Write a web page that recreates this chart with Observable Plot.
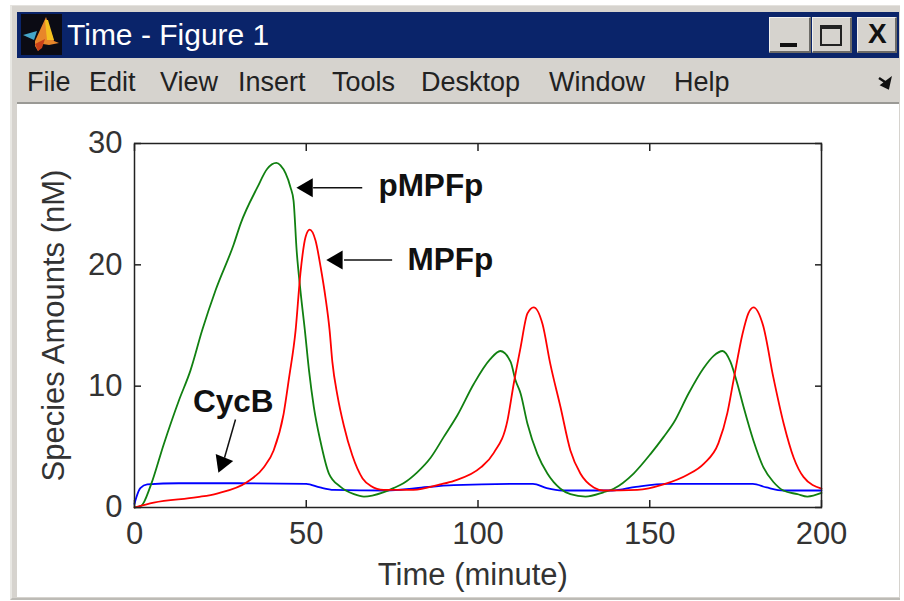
<!DOCTYPE html>
<html><head><meta charset="utf-8">
<script src="https://cdn.jsdelivr.net/npm/d3@7"></script>
<script src="https://cdn.jsdelivr.net/npm/@observablehq/plot@0.6"></script>
<style>
html,body{margin:0;padding:0;background:#fff;width:904px;height:601px;overflow:hidden;font-family:"Liberation Sans",Arial,sans-serif}
.abs{position:absolute;box-sizing:border-box}
#win{left:10px;top:5px;width:890px;height:595px;background:#d6d3ce;border-top:1px solid #e4e2de;border-left:2px solid #e8e7e3;border-bottom:2px solid #bdbbb6}
#titlebar{left:17px;top:12px;width:882px;height:46px;background:#0a246a}
#title{left:67px;top:18px;color:#fff;font-size:30px;line-height:34px;white-space:nowrap}
.btn{top:17px;height:36px;background:#d6d3ce;border-top:1px solid #f2f1ee;border-left:1px solid #f2f1ee;border-right:2px solid #6d6b67;border-bottom:2px solid #6d6b67}
.menu{top:65px;font-size:27px;line-height:34px;color:#222;white-space:nowrap}
#rule{left:17px;top:102px;width:882px;height:2px;background:#9a9995}
#paper{left:17px;top:104px;width:882px;height:493px;background:#fff}
#plot{left:0;top:108px}
#plot svg{background:transparent;display:block}
</style></head><body>
<div class="abs" id="win"></div>
<div class="abs" id="titlebar"></div>
<svg class="abs" style="left:21px;top:14px" width="41" height="41" viewBox="0 0 41 41">
<rect width="41" height="41" fill="#0b0b14"/>
<polygon points="2,21 16,17 13,26" fill="#45a5c8"/>
<polygon points="14,27 25,3 33,27 38,29 28,31 22,30 17,37 14,32" fill="#e8862a"/>
<polygon points="24,6 27,6 33,26 26,26" fill="#f4c020"/>
<polygon points="14,30 24,25 21,34 17,37" fill="#c8401a"/>
</svg>
<div class="abs" id="title">Time - Figure 1</div>
<div class="abs btn" style="left:769px;width:42px"></div>
<div class="abs btn" style="left:812px;width:40px"></div>
<div class="abs btn" style="left:857px;width:40px"></div>
<div class="abs" style="left:780px;top:43px;width:17px;height:4px;background:#111"></div>
<div class="abs" style="left:820px;top:25px;width:22px;height:21px;border:2px solid #222;border-top-width:4px"></div>
<div class="abs" style="left:868px;top:16px;font:bold 28px/36px 'Liberation Sans';color:#111">X</div>
<div class="abs menu" style="left:27px">File</div>
<div class="abs menu" style="left:89px">Edit</div>
<div class="abs menu" style="left:160px">View</div>
<div class="abs menu" style="left:238px">Insert</div>
<div class="abs menu" style="left:332px">Tools</div>
<div class="abs menu" style="left:421px">Desktop</div>
<div class="abs menu" style="left:549px">Window</div>
<div class="abs menu" style="left:674px">Help</div>
<svg class="abs" style="left:878px;top:76px" width="14" height="14" viewBox="0 0 14 14"><path d="M1 2 L7 6 M10 12 L12 3 L4 9 Z" stroke="#111" stroke-width="2.5" fill="#111"/></svg>
<div class="abs" id="rule"></div>
<div class="abs" id="paper"></div>
<div class="abs" id="plot"></div>
<script>
const xLabel = "Time (minute)";
const yLabel = "Species Amounts (nM)";
const xTicks = [0, 50, 100, 150, 200];
const yTicks = [0, 10, 20, 30];

const greenT = [0,2,4.7,8.5,12.9,16.3,19.7,23.6,28.9,30.9,35.8,38.6,41.3,42.5,45.4,46.3,47.2,48.3,49.6,50.8,52.2,54.1,56.6,60,63.9,66.8,72.4,75.4,78.3,82.3,86.2,90,94,98.8,103.5,106.5,109.5,110.9,112.4,114.4,117.3,120.2,124,126.9,131.3,136.5,139.5,145.3,150.2,154,157,161.3,165.7,168.6,171.2,173.5,175.5,177.3,180.2,183.1,186,188.9,193,195.9,200];
const greenV = [0,0.15,1.8,5.2,8.8,11.3,14.6,17.9,21.7,23.4,26.4,27.9,28.4,28.2,26.4,25.3,21.2,17.9,14.6,11.3,8.3,5.5,2.8,1.7,1.1,0.9,1.25,1.6,2,2.9,4.1,5.8,7.6,10.2,12.2,12.9,12,10.5,9.4,6.9,4.4,2.8,1.55,1.1,0.9,1.25,1.55,2.8,4.4,5.8,7,9.4,11.5,12.5,12.9,12,10.2,8.3,5.5,3.3,2.1,1.4,1.1,0.9,1.2];

const redT = [0,5.6,18.3,24,32.8,37.6,40.5,43.4,45,46.9,48.3,49.8,51,52.7,54.2,55.6,56.8,57.6,59.1,60.9,63.4,66.4,68.7,72.5,81.2,89,93,100.8,104.6,108.6,110.4,112.4,114.4,116.2,118.8,121,124,126.9,129.8,133.7,136.6,146.4,154,161,165.7,170,172.6,174.4,177,178.7,180.2,183,186,189,191.9,194.8,200];
const redV = [0,0.4,0.85,1.15,2.1,3.3,4.7,7.7,10.7,14.6,19.3,22.3,22.9,22,19.8,17.3,14.6,12,9.2,6.8,4.3,2.4,1.8,1.45,1.45,1.9,2.2,3.3,4.5,7.2,10.2,13.2,16,16.5,15.1,11.9,8.3,4.7,2.8,1.65,1.4,1.45,1.9,2.7,3.6,5.3,7.8,10.5,14.3,16,16.5,15,10.7,6.9,4.1,2.5,1.55];

const blueT = [0,0.5,1.7,3.7,12.9,30,50,54,58,73.6,82,93,116,120,124.5,139,146,155,180,184,189,200];
const blueV = [0.3,0.8,1.6,1.9,2,2,1.95,1.65,1.45,1.4,1.6,1.85,1.95,1.6,1.4,1.4,1.7,1.95,1.95,1.65,1.4,1.4];

const labelNames = ["pMPFp","MPFp","CycB"];
const labelX = [71,79.5,17];
const labelY = [26.5,20.4,8.7];

const toRows = (ts, vs) => ts.map((t,i)=>({t, v:vs[i]}));

const arrowShafts = [
  {x1:66.3,y1:26.35,x2:52,y2:26.35},
  {x1:75,y1:20.4,x2:61,y2:20.4},
  {x1:29.4,y1:7.25,x2:26.2,y2:4.1}
];
const arrowHeads = [
  {x:50.3,y:26.35,a:-90},
  {x:59,y:20.4,a:-90},
  {x:25.6,y:3.7,a:201.8}
];

const chart = Plot.plot({
  width: 904, height: 490,
  marginLeft: 134, marginRight: 83, marginTop: 35, marginBottom: 91,
  style: {background:"transparent", overflow:"visible"},
  x: {domain:[0,200], ticks:xTicks},
  y: {domain:[0,30], ticks:yTicks},
  marks: [
    Plot.axisX(xTicks,{anchor:"bottom", tickSize:-7, tickPadding:21, label:null, fontSize:31, fontFamily:"Liberation Sans", fill:"#333", stroke:"#222", strokeWidth:1.5}),
    Plot.axisX(xTicks,{anchor:"top", tickSize:-7, label:null, tickFormat:()=>"", stroke:"#222", strokeWidth:1.5}),
    Plot.axisY(yTicks,{anchor:"left", tickSize:-7, tickPadding:19, label:null, fontSize:31, fontFamily:"Liberation Sans", fill:"#333", stroke:"#222", strokeWidth:1.5}),
    Plot.axisY(yTicks,{anchor:"right", tickSize:-7, label:null, tickFormat:()=>"", stroke:"#222", strokeWidth:1.5}),
    Plot.line(toRows(blueT,blueV),{x:"t",y:"v",curve:"monotone-x",stroke:"#0000ff",strokeWidth:1.8}),
    Plot.line(toRows(greenT,greenV),{x:"t",y:"v",curve:"monotone-x",stroke:"#118011",strokeWidth:1.8}),
    Plot.line(toRows(redT,redV),{x:"t",y:"v",curve:"monotone-x",stroke:"#ff0000",strokeWidth:1.8}),
    Plot.frame({stroke:"#222",strokeWidth:1.5}),
    Plot.link(arrowShafts,{x1:"x1",y1:"y1",x2:"x2",y2:"y2",stroke:"#111",strokeWidth:1.5}),
    Plot.dot(arrowHeads,{x:"x",y:"y",rotate:"a",symbol:"triangle",r:7,fill:"#000",stroke:"none"}),
    Plot.text(labelNames,{x:(d,i)=>labelX[i],y:(d,i)=>labelY[i],text:d=>d,textAnchor:"start",fontSize:31.5,fontWeight:"bold",fontFamily:"Liberation Sans",fill:"#111"}),
    Plot.text([xLabel],{x:[98.5],frameAnchor:"bottom",dy:77,fontSize:31,fontFamily:"Liberation Sans",fill:"#333",text:d=>d}),
    Plot.text([yLabel],{y:[15],frameAnchor:"left",textAnchor:"middle",rotate:-90,dx:-80,fontSize:31,fontFamily:"Liberation Sans",fill:"#333",text:d=>d})
  ]
});
document.getElementById("plot").appendChild(chart);
</script>
</body></html>
